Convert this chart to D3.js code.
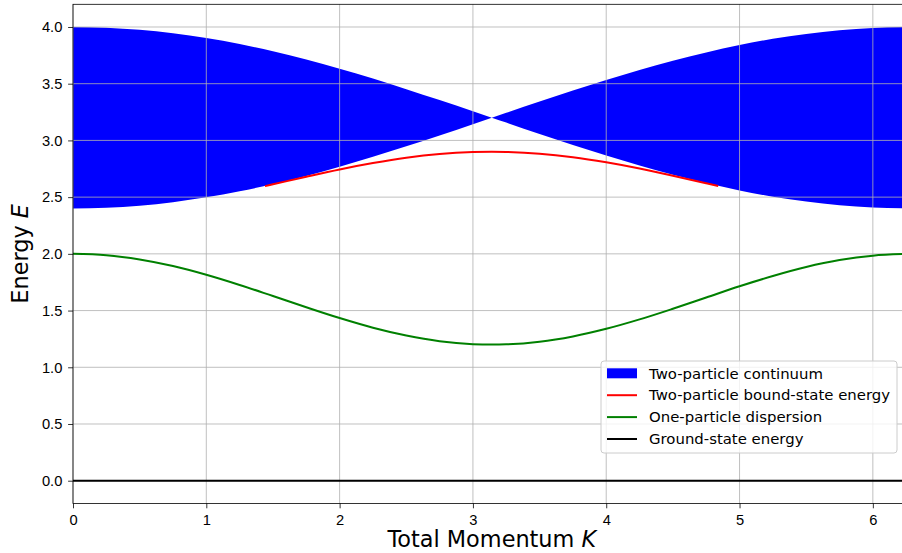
<!DOCTYPE html>
<html>
<head>
<meta charset="utf-8">
<script src="https://cdn.jsdelivr.net/npm/d3@7"></script>
<style>
  body { margin: 0; background: #fff; }
  svg { display: block; font-family: "DejaVu Sans", sans-serif; }
  .tick text { font-size: 14.7px; fill: #000; }
  .grid line { stroke: #b0b0b0; stroke-width: 0.8; }
  .legend text { font-size: 14.9px; }
</style>
</head>
<body>
<script>
// momentum grid used for the continuum and the single-particle band
const kGrid = [0, 0.25, 0.5, 0.75, 1.0, 1.25, 1.5, 1.75, 2.0, 2.25, 2.5, 2.75, 3.0, 3.1416,
  3.25, 3.5, 3.75, 4.0, 4.25, 4.5, 4.75, 5.0, 5.25, 5.5, 5.75, 6.0, 6.2832]

const continuumLow = [2.400, 2.406, 2.425, 2.456, 2.498, 2.551, 2.615, 2.687, 2.768, 2.855, 2.948,
  3.044, 3.143, 3.200, 3.157, 3.057, 2.960, 2.867, 2.779, 2.697, 2.624, 2.559, 2.504, 2.461, 2.428, 2.408, 2.400]
const continuumHigh = [4.000, 3.994, 3.975, 3.944, 3.902, 3.849, 3.785, 3.713, 3.632, 3.545, 3.452,
  3.356, 3.257, 3.200, 3.243, 3.343, 3.440, 3.533, 3.621, 3.703, 3.776, 3.841, 3.896, 3.939, 3.972, 3.992, 4.000]

const dispersion = [2.000, 1.988, 1.951, 1.893, 1.816, 1.726, 1.628, 1.529, 1.434, 1.349, 1.280,
  1.230, 1.204, 1.200, 1.202, 1.225, 1.272, 1.339, 1.422, 1.516, 1.615, 1.714, 1.805, 1.884, 1.945, 1.984, 2.000]

// bound state only exists below the continuum
const kBound = [1.44, 1.5, 1.75, 2.0, 2.25, 2.5, 2.75, 3.0, 3.1416, 3.25, 3.5, 3.75, 4.0, 4.25, 4.5, 4.75, 4.84]
const boundState = [2.597, 2.613, 2.680, 2.744, 2.800, 2.847, 2.880, 2.897, 2.900, 2.898, 2.883,
  2.852, 2.807, 2.752, 2.688, 2.622, 2.598]

const groundState = 0

const xTicks = [0, 1, 2, 3, 4, 5, 6]
const yTicks = [0, 0.5, 1, 1.5, 2, 2.5, 3, 3.5, 4]

const legendItems = [
  { label: 'Two-particle continuum', color: '#0000ff', type: 'patch' },
  { label: 'Two-particle bound-state energy', color: '#ff0000', type: 'line' },
  { label: 'One-particle dispersion', color: '#008000', type: 'line' },
  { label: 'Ground-state energy', color: '#000000', type: 'line' }
]

const width = 902, height = 553
const margin = { left: 73, top: 4.3, right: 910.6, bottom: 503.4 }
const kPi = 3.1416

const svg = d3.select('body').append('svg')
  .attr('width', width)
  .attr('height', height)

const x = d3.scaleLinear().domain([0, 6.2832]).range([margin.left, margin.right])
const y = d3.scaleLinear().domain([-0.2, 4.2]).range([margin.bottom, margin.top])

let cont = kGrid.map((k, i) => ({ k: k, lo: continuumLow[i], hi: continuumHigh[i] }))

// the band closes to a cusp at K = pi, so draw each half separately
let area = d3.area().curve(d3.curveMonotoneX)
  .x(d => x(d.k)).y0(d => y(d.lo)).y1(d => y(d.hi))

svg.selectAll('.band')
  .data([cont.filter(d => d.k <= kPi), cont.filter(d => d.k >= kPi)])
  .enter().append('path')
  .attr('class', 'band')
  .attr('fill', '#0000ff')
  .attr('d', area)

// grid sits above the fill, below the lines
let grid = svg.append('g').attr('class', 'grid')
grid.selectAll('.gx').data(xTicks).enter().append('line')
  .attr('x1', d => x(d)).attr('x2', d => x(d))
  .attr('y1', margin.top).attr('y2', margin.bottom)
grid.selectAll('.gy').data(yTicks).enter().append('line')
  .attr('x1', margin.left).attr('x2', margin.right)
  .attr('y1', d => y(d)).attr('y2', d => y(d))

let line = d3.line().curve(d3.curveMonotoneX).x(d => x(d[0])).y(d => y(d[1]))

svg.append('path')
  .datum(kBound.map((k, i) => [k, boundState[i]]))
  .attr('fill', 'none').attr('stroke', '#ff0000').attr('stroke-width', 2)
  .attr('d', line)

svg.append('path')
  .datum(kGrid.map((k, i) => [k, dispersion[i]]))
  .attr('fill', 'none').attr('stroke', '#008000').attr('stroke-width', 2)
  .attr('d', line)

svg.append('path')
  .datum([[0, groundState], [6.2832, groundState]])
  .attr('fill', 'none').attr('stroke', '#000').attr('stroke-width', 2)
  .attr('d', line)

// axes
svg.append('g')
  .attr('transform', 'translate(0,' + margin.bottom + ')')
  .call(d3.axisBottom(x).tickValues(xTicks).tickFormat(d3.format('d')).tickSizeOuter(0).tickSize(4.9).tickPadding(6))
  .call(g => g.select('.domain').remove())

svg.append('g')
  .attr('transform', 'translate(' + margin.left + ',0)')
  .call(d3.axisLeft(y).tickValues(yTicks).tickFormat(d3.format('.1f')).tickSizeOuter(0).tickSize(4.9).tickPadding(5.8))
  .call(g => g.select('.domain').remove())

svg.selectAll('.tick line').attr('stroke', '#000').attr('stroke-width', 0.8)

svg.append('rect')
  .attr('x', margin.left).attr('y', margin.top)
  .attr('width', margin.right - margin.left).attr('height', margin.bottom - margin.top)
  .attr('fill', 'none').attr('stroke', '#000').attr('stroke-width', 0.8)

// axis labels
let xl = svg.append('text')
  .attr('x', (margin.left + margin.right) / 2).attr('y', 547)
  .attr('text-anchor', 'middle').attr('font-size', 22.4)
xl.append('tspan').text('Total Momentum ')
xl.append('tspan').attr('font-style', 'italic').text('K')

let yl = svg.append('text')
  .attr('transform', 'translate(27.5,' + (margin.top + margin.bottom) / 2 + ') rotate(-90)')
  .attr('text-anchor', 'middle').attr('font-size', 22.4)
yl.append('tspan').text('Energy ')
yl.append('tspan').attr('font-style', 'italic').text('E')

// legend
let lg = svg.append('g').attr('class', 'legend').attr('transform', 'translate(601,361)')
lg.append('rect')
  .attr('width', 296).attr('height', 92).attr('rx', 3)
  .attr('fill', '#fff').attr('fill-opacity', 0.8)
  .attr('stroke', '#cccccc').attr('stroke-width', 1)

let items = lg.selectAll('.item').data(legendItems).enter().append('g')
  .attr('transform', (d, i) => 'translate(0,' + (12.3 + i * 21.9) + ')')

items.filter(d => d.type === 'patch').append('rect')
  .attr('x', 6).attr('y', -5).attr('width', 30).attr('height', 10)
  .attr('fill', d => d.color)
items.filter(d => d.type === 'line').append('line')
  .attr('x1', 6).attr('x2', 36)
  .attr('stroke', d => d.color).attr('stroke-width', 2)
items.append('text')
  .attr('x', 48).attr('dy', '0.35em')
  .text(d => d.label)
</script>
</body>
</html>
